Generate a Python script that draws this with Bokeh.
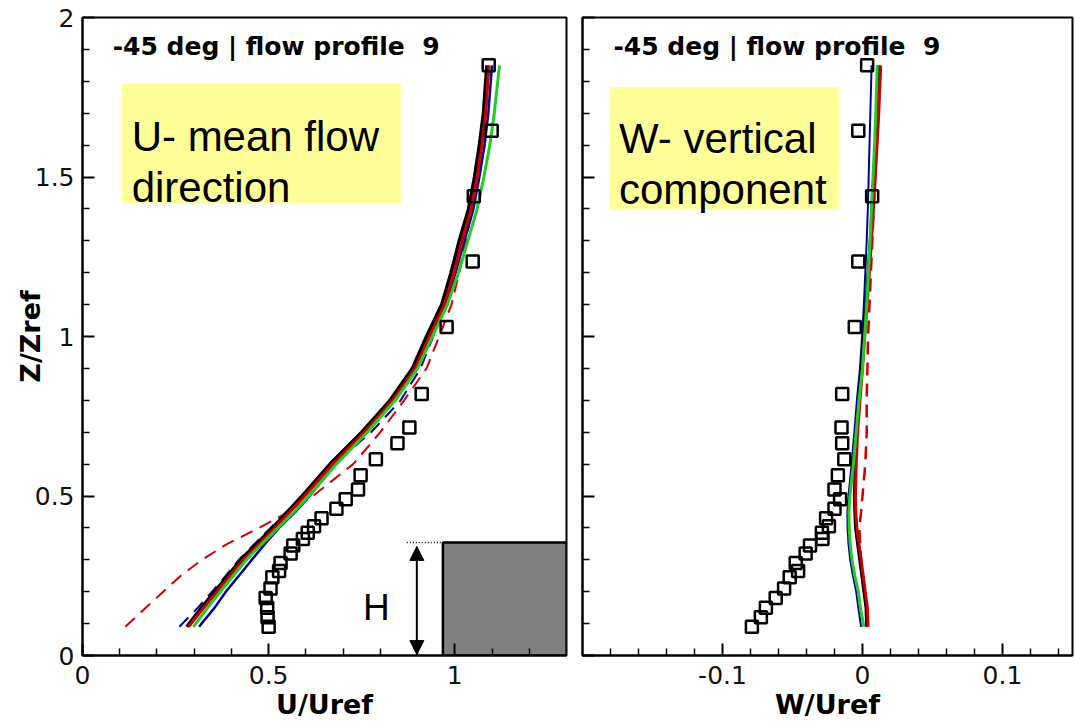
from bokeh.plotting import figure
from bokeh.layouts import row
from bokeh.models import (Range1d, FixedTicker, CustomJSTickFormatter, Label,
                          BoxAnnotation, Arrow, NormalHead)
from bokeh.embed import file_html
from bokeh.resources import INLINE

# ---------------- data ----------------
panel_title = "-45 deg | flow profile \u00a09"

# experiment (squares)
z_exp = [0.09, 0.12, 0.15, 0.18, 0.21, 0.245, 0.265, 0.29, 0.32, 0.345, 0.365, 0.385,
         0.405, 0.43, 0.46, 0.49, 0.52, 0.565, 0.615, 0.665, 0.715, 0.82, 1.03, 1.235,
         1.44, 1.645, 1.85]
u_exp = [0.500, 0.497, 0.496, 0.492, 0.505, 0.510, 0.528, 0.532, 0.559, 0.566, 0.592, 0.605,
         0.622, 0.642, 0.682, 0.707, 0.740, 0.747, 0.788, 0.846, 0.878, 0.911, 0.978, 1.048,
         1.051, 1.099, 1.091]
w_exp = [-0.079, -0.0726, -0.069, -0.062, -0.056, -0.052, -0.046, -0.0477, -0.0406, -0.0375,
         -0.0286, -0.029, -0.024, -0.026, -0.020, -0.016, -0.020, -0.0176, -0.013, -0.0145,
         -0.015, -0.0145, -0.0055, -0.003, 0.0069, -0.003, 0.0033]

# simulations (lines)
z_cfd = [0.09, 0.15, 0.2, 0.25, 0.3, 0.35, 0.4, 0.45, 0.5, 0.6, 0.7, 0.8, 0.9, 1.0,
         1.1, 1.2, 1.3, 1.4, 1.5, 1.6, 1.7, 1.85]

u_black = [0.280, 0.320, 0.355, 0.390, 0.425, 0.468, 0.510, 0.550, 0.590, 0.665, 0.750,
           0.826, 0.886, 0.924, 0.965, 0.990, 1.012, 1.037, 1.053, 1.066, 1.077, 1.086]
u_red = [0.285, 0.326, 0.361, 0.396, 0.432, 0.475, 0.517, 0.557, 0.597, 0.672, 0.757,
         0.833, 0.893, 0.932, 0.972, 0.998, 1.020, 1.044, 1.060, 1.073, 1.083, 1.092]
u_green = [0.298, 0.336, 0.370, 0.405, 0.440, 0.482, 0.525, 0.568, 0.608, 0.682, 0.765,
           0.840, 0.900, 0.940, 0.980, 1.010, 1.035, 1.060, 1.078, 1.094, 1.106, 1.120]
u_blue = [0.313, 0.355, 0.385, 0.420, 0.455, 0.490, 0.528, 0.572, 0.610, 0.678, 0.760,
          0.836, 0.895, 0.935, 0.975, 1.002, 1.026, 1.050, 1.066, 1.080, 1.090, 1.100]
u_blue_dash = [0.260, 0.310, 0.348, 0.385, 0.420, 0.462, 0.505, 0.548, 0.590, 0.675, 0.775,
               0.855, 0.908, 0.942, 0.975, 1.000, 1.020, 1.042, 1.057, 1.070, 1.080, 1.088]
u_red_dash = [0.115, 0.170, 0.217, 0.264, 0.321, 0.389, 0.474, 0.554, 0.619, 0.727, 0.800,
              0.864, 0.924, 0.958, 0.991, 1.012, 1.030, 1.046, 1.060, 1.073, 1.083, 1.092]

w_black = [0.0030, 0.0025, 0.0010, -0.0005, -0.0020, -0.0035, -0.0050, -0.0055, -0.0058,
           -0.0052, -0.0042, -0.0025, -0.0008, 0.0008, 0.0025, 0.0040, 0.0055, 0.0068,
           0.0080, 0.0092, 0.0103, 0.0115]
w_red = [0.0040, 0.0035, 0.0020, 0.0005, -0.0010, -0.0025, -0.0040, -0.0048, -0.0050,
         -0.0045, -0.0035, -0.0018, 0.0000, 0.0016, 0.0033, 0.0049, 0.0064, 0.0078,
         0.0091, 0.0104, 0.0116, 0.0130]
w_green = [0.0010, -0.0015, -0.0030, -0.0055, -0.0075, -0.0088, -0.0095, -0.0097, -0.0090,
           -0.0065, -0.0045, -0.0025, 0.0000, 0.0015, 0.0030, 0.0042, 0.0054, 0.0064,
           0.0075, 0.0086, 0.0095, 0.0105]
w_blue = [-0.0010, -0.0030, -0.0045, -0.0068, -0.0088, -0.0100, -0.0107, -0.0108, -0.0100,
          -0.0078, -0.0058, -0.0040, -0.0018, -0.0003, 0.0010, 0.0020, 0.0030, 0.0038,
          0.0044, 0.0050, 0.0056, 0.0065]
w_red_dash = [0.0030, 0.0025, 0.0015, 0.0000, -0.0010, -0.0018, -0.0022, -0.0010, 0.0000,
              0.0020, 0.0030, 0.0030, 0.0035, 0.0040, 0.0050, 0.0060, 0.0070, 0.0080,
              0.0090, 0.0102, 0.0114, 0.0128]

# building sketch (U panel)
building_x = [0.968, 1.3]
building_z = [0.0, 0.354]
arrow_x = 0.898

u_ticks = [0, 0.5, 1]
u_minor = [0.1, 0.2, 0.3, 0.4, 0.6, 0.7, 0.8, 0.9, 1.1, 1.2]
w_ticks = [-0.1, 0, 0.1]
w_minor = [-0.18, -0.16, -0.14, -0.12, -0.08, -0.06, -0.04, -0.02,
           0.02, 0.04, 0.06, 0.08, 0.12, 0.14]
z_ticks = [0, 0.5, 1, 1.5, 2]
z_minor = [0.1, 0.2, 0.3, 0.4, 0.6, 0.7, 0.8, 0.9, 1.1, 1.2, 1.3, 1.4, 1.6, 1.7, 1.8, 1.9]

# ---------------- styling ----------------
RED = "#cc0000"
GREEN = "#22cc22"
BLUE = "#000099"
TICK_FONT = "DejaVu Sans"
DASH = "13 8"


def base_fig(frame_w, xr, border_left, border_right):
    p = figure(frame_width=frame_w, frame_height=638, x_range=Range1d(*xr),
               y_range=Range1d(0, 2),
               output_backend="svg", toolbar_location=None,
               min_border_left=border_left, min_border_right=border_right,
               min_border_top=17, min_border_bottom=68)
    p.grid.visible = False
    p.outline_line_color = "black"
    p.outline_line_width = 2
    p.background_fill_color = "white"
    p.border_fill_color = "white"
    for ax in (p.xaxis[0], p.yaxis[0]):
        ax.axis_line_width = 2
        ax.axis_line_color = "black"
        ax.major_tick_in = 12
        ax.major_tick_out = 0
        ax.minor_tick_in = 7
        ax.minor_tick_out = 0
        ax.major_tick_line_width = 2
        ax.minor_tick_line_width = 1.5
        ax.major_tick_line_color = "black"
        ax.minor_tick_line_color = "black"
        ax.major_label_text_font = TICK_FONT
        ax.major_label_text_font_size = "25px"
        ax.major_label_text_color = "#111111"
        ax.formatter = CustomJSTickFormatter(code="return tick.toString();")
        ax.axis_label_text_font = "DejaVu Sans"
        ax.axis_label_text_font_style = "bold"
        ax.axis_label_text_font_size = "27px"
        ax.axis_label_text_color = "black"
    p.xaxis.major_label_standoff = 10
    p.yaxis.major_label_standoff = 8
    p.xaxis.axis_label_standoff = 2
    p.yaxis.axis_label_standoff = -14
    p.yaxis.ticker = FixedTicker(ticks=z_ticks, minor_ticks=z_minor)
    return p


def add_text(p, x, y, text, size, font="Liberation Sans", style="normal",
             align="left", baseline="alphabetic"):
    p.add_layout(Label(x=x, y=y, text=text, text_font=font, text_font_size=size,
                       text_font_style=style, text_align=align, text_baseline=baseline,
                       text_color="black"))


# ---------------- U panel ----------------
p1 = base_fig(484, (0, 1.3), 82, 8)
p1.xaxis.ticker = FixedTicker(ticks=u_ticks, minor_ticks=u_minor)
p1.xaxis.axis_label = "U/Uref"
p1.yaxis.axis_label = "Z/Zref"

p1.line(u_red_dash, z_cfd, line_color=RED, line_width=2, line_dash=DASH)
p1.line(u_blue_dash, z_cfd, line_color=BLUE, line_width=2, line_dash=DASH)
p1.line(u_blue, z_cfd, line_color=BLUE, line_width=2.5)
p1.line(u_black, z_cfd, line_color="black", line_width=3.5)
p1.line(u_red, z_cfd, line_color=RED, line_width=3)
p1.line(u_green, z_cfd, line_color=GREEN, line_width=3)
p1.scatter(u_exp, z_exp, marker="square", size=12, fill_color=None,
           line_color="black", line_width=2.5)

p1.quad(left=building_x[0], right=building_x[1], bottom=building_z[0], top=building_z[1],
        fill_color="#808080", line_color="black", line_width=2.5)
p1.line([0.871, building_x[0]], [building_z[1], building_z[1]], line_color="black",
        line_width=1.5, line_dash="1 2")
p1.add_layout(Arrow(x_start=arrow_x, y_start=0.003, x_end=arrow_x, y_end=0.342,
                    line_color="black", line_width=2,
                    start=NormalHead(size=14, fill_color="black", line_color="black"),
                    end=NormalHead(size=14, fill_color="black", line_color="black")))
add_text(p1, 0.789, 0.150, "H", "37px", align="center")

p1.add_layout(BoxAnnotation(left=0.106, right=0.855, bottom=1.417, top=1.793,
                            fill_color="#ffff99", fill_alpha=1, line_color=None))
add_text(p1, 0.132, 1.626, "U- mean flow", "42px")
add_text(p1, 0.132, 1.467, "direction", "42px")
add_text(p1, 0.081, 1.909, panel_title, "25px", font="DejaVu Sans", style="bold")

# ---------------- W panel ----------------
p2 = base_fig(490, (-0.2, 0.15), 8, 3)
p2.xaxis.ticker = FixedTicker(ticks=w_ticks, minor_ticks=w_minor)
p2.yaxis.formatter = CustomJSTickFormatter(code="return '';")
p2.xaxis.axis_label = "W/Uref"

p2.line(w_red_dash, z_cfd, line_color=RED, line_width=2.5, line_dash=DASH)
p2.line(w_blue, z_cfd, line_color=BLUE, line_width=2)
p2.line(w_black, z_cfd, line_color="black", line_width=3)
p2.line(w_red, z_cfd, line_color=RED, line_width=3)
p2.line(w_green, z_cfd, line_color=GREEN, line_width=3)
p2.scatter(w_exp, z_exp, marker="square", size=12, fill_color=None,
           line_color="black", line_width=2.5)

p2.add_layout(BoxAnnotation(left=-0.1807, right=-0.0164, bottom=1.398, top=1.781,
                            fill_color="#ffff99", fill_alpha=1, line_color=None))
add_text(p2, -0.174, 1.621, "W- vertical", "42px")
add_text(p2, -0.174, 1.461, "component", "42px")
add_text(p2, -0.1779, 1.909, panel_title, "25px", font="DejaVu Sans", style="bold")

layout = row(p1, p2, spacing=0)
open("out.html", "w").write(file_html(layout, INLINE))
